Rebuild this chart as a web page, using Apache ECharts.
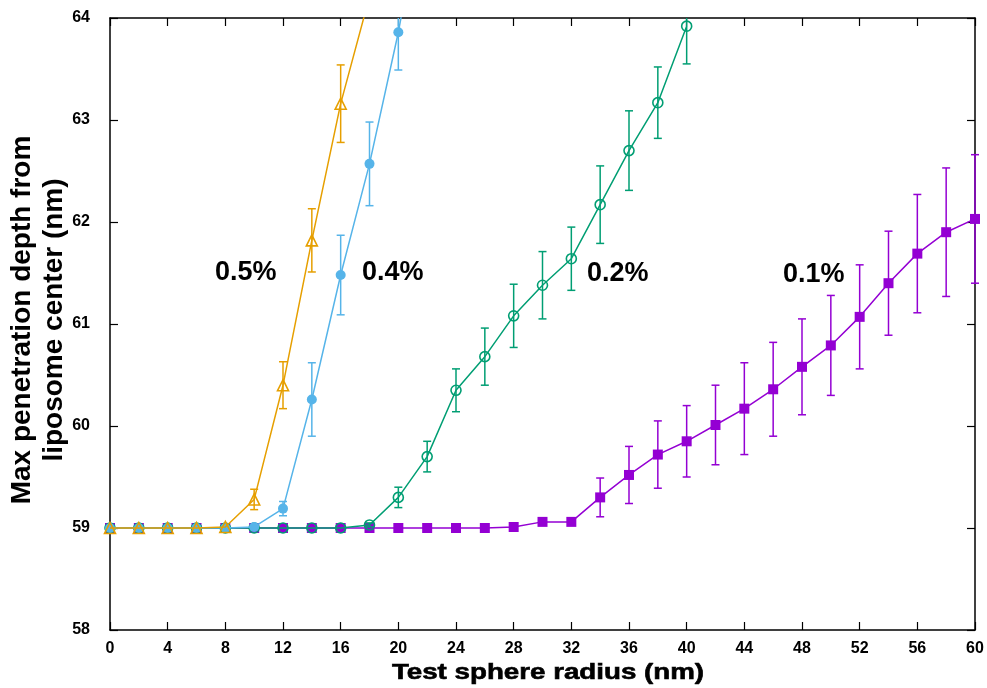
<!DOCTYPE html>
<html>
<head>
<meta charset="utf-8">
<script src="https://cdn.jsdelivr.net/npm/echarts@6/dist/echarts.min.js"></script>
<style>
  html, body { margin: 0; padding: 0; background: #fff; }
  #chart { width: 987px; height: 688px; }
</style>
</head>
<body>
<div id="chart"></div>
<script>
// test sphere radius (nm)
var radius = [0, 2, 4, 6, 8, 10, 12, 14, 16, 18, 20, 22, 24, 26, 28, 30,
              32, 34, 36, 38, 40, 42, 44, 46, 48, 50, 52, 54, 56, 58, 60];

// 0.5 %
var depth05 = [59, 59, 59, 59, 59.01, 59.28, 60.40, 61.82, 63.16, 64.21];
var err05   = [0, 0, 0, 0, 0, 0.10, 0.23, 0.31, 0.38, 0];

// 0.4 %
var depth04 = [59, 59, 59, 59, 59, 59.01, 59.19, 60.26, 61.48, 62.57, 63.86, 65.4];
var err04   = [0, 0, 0, 0, 0, 0.01, 0.07, 0.36, 0.39, 0.41, 0.37, 0];

// 0.2 %
var depth02 = [59, 59, 59, 59, 59, 59, 59, 59, 59, 59.03, 59.30, 59.70, 60.35,
               60.68, 61.08, 61.38, 61.64, 62.17, 62.70, 63.17, 63.92];
var err02   = [0, 0, 0, 0, 0, 0, 0, 0, 0, 0.02, 0.10, 0.15, 0.21,
               0.28, 0.31, 0.33, 0.31, 0.38, 0.39, 0.35, 0.37];

// 0.1 %
var depth01 = [59, 59, 59, 59, 59, 59, 59, 59, 59, 59, 59, 59, 59, 59, 59.01, 59.06,
               59.06, 59.30, 59.52, 59.72, 59.85, 60.01, 60.17, 60.36, 60.58, 60.79,
               61.07, 61.40, 61.69, 61.90, 62.03];
var err01   = [0, 0, 0, 0, 0, 0, 0, 0, 0, 0, 0, 0, 0, 0, 0, 0.01,
               0.01, 0.19, 0.28, 0.33, 0.35, 0.39, 0.45, 0.46, 0.47, 0.49,
               0.51, 0.51, 0.58, 0.63, 0.63];

var xTicks = { min: 0, max: 60, interval: 4 };
var yTicks = { min: 58, max: 64, interval: 1 };

var FONT = "'Liberation Sans', Arial, sans-serif";

function pairs(ys) {
  return ys.map(function(y, i) { return [radius[i], y]; });
}
function triples(ys, es) {
  return ys.map(function(y, i) { return [radius[i], y, es[i]]; });
}

function errorBars(params, api) {
  var e = api.value(2);
  if (!e) return;
  var x = api.value(0), y = api.value(1);
  var top = api.coord([x, y + e]);
  var bot = api.coord([x, y - e]);
  var cs = params.coordSys;
  var clipTop = top[1] < cs.y;
  var yTop = Math.max(top[1], cs.y);
  var yBot = Math.min(bot[1], cs.y + cs.height);
  var w = 4;
  var style = { stroke: api.visual("color"), lineWidth: 1.5 };
  var kids = [
    { type: "line", shape: { x1: top[0], y1: yTop, x2: top[0], y2: yBot }, style: style }
  ];
  if (!clipTop) kids.push({ type: "line", shape: { x1: top[0] - w, y1: yTop, x2: top[0] + w, y2: yTop }, style: style });
  kids.push({ type: "line", shape: { x1: bot[0] - w, y1: yBot, x2: bot[0] + w, y2: yBot }, style: style });
  return { type: "group", children: kids };
}

// open markers keep a see-through middle, like the original plot
var groups = [
  { name: "0.1%", color: "#9400D3", sym: "rect", size: 10, open: false, y: depth01, e: err01 },
  { name: "0.2%", color: "#009E73", sym: "circle", size: 10, open: true, y: depth02, e: err02 },
  { name: "0.4%", color: "#56B4E9", sym: "circle", size: 10, open: false, y: depth04, e: err04 },
  { name: "0.5%", color: "#E69F00", sym: "triangle", size: 11, open: true, y: depth05, e: err05 }
];

var series = [];
groups.forEach(function(g, k) {
  series.push({
    type: "custom",
    name: g.name + " err",
    renderItem: errorBars,
    itemStyle: { color: g.color },
    data: triples(g.y, g.e),
    encode: { x: 0, y: 1 },
    z: 2 + k * 2,
    silent: true
  });
  series.push({
    type: "line",
    name: g.name,
    data: pairs(g.y),
    symbol: g.sym,
    symbolSize: g.size,
    showAllSymbol: true,
    clip: true,
    lineStyle: { color: g.color, width: 1.5 },
    itemStyle: g.open
      ? { color: "rgba(255,255,255,0)", borderColor: g.color, borderWidth: 1.6 }
      : { color: g.color, borderWidth: 0 },
    z: 3 + k * 2,
    animation: false
  });
});

function axisBase(extra) {
  var base = {
    type: "value",
    axisLine: { show: true, onZero: false, lineStyle: { color: "#000", width: 1.5 } },
    axisTick: { show: true, inside: true, length: 8, lineStyle: { color: "#000", width: 1.2 } },
    splitLine: { show: false },
    axisLabel: { color: "#000", fontFamily: FONT, fontWeight: "bold", fontSize: 16 }
  };
  for (var k in extra) base[k] = extra[k];
  return base;
}

var chart = echarts.init(document.getElementById("chart"));
chart.setOption({
  animation: false,
  backgroundColor: "#fff",
  grid: { left: 110, right: 12, top: 18, bottom: 58, containLabel: false, outerBoundsMode: "none" },
  xAxis: [
    axisBase({
      min: xTicks.min, max: xTicks.max, interval: xTicks.interval,
      position: "bottom",
      axisLabel: { color: "#000", fontFamily: FONT, fontWeight: "bold", fontSize: 16, margin: 11 }
    }),
    axisBase({
      min: xTicks.min, max: xTicks.max, interval: xTicks.interval,
      position: "top",
      axisLabel: { show: false }
    })
  ],
  yAxis: [
    axisBase({
      min: yTicks.min, max: yTicks.max, interval: yTicks.interval,
      position: "left",
      axisLabel: { color: "#000", fontFamily: FONT, fontWeight: "bold", fontSize: 16, margin: 20 }
    }),
    axisBase({
      min: yTicks.min, max: yTicks.max, interval: yTicks.interval,
      position: "right",
      axisLabel: { show: false }
    })
  ],
  graphic: [
    { type: "text", left: 215, top: 259, style: { text: "0.5%", fill: "#000", font: "bold 27px " + FONT } },
    { type: "text", left: 362, top: 259, style: { text: "0.4%", fill: "#000", font: "bold 27px " + FONT } },
    { type: "text", left: 587, top: 260, style: { text: "0.2%", fill: "#000", font: "bold 27px " + FONT } },
    { type: "text", left: 783, top: 261, style: { text: "0.1%", fill: "#000", font: "bold 27px " + FONT } },
    {
      type: "text", x: 548, y: 673, scaleX: 1.26,
      style: { text: "Test sphere radius (nm)", fill: "#000", font: "bold 22px " + FONT,
               stroke: "#000", lineWidth: 0.6, align: "center", verticalAlign: "middle" }
    },
    {
      type: "text", x: 38, y: 320, rotation: Math.PI / 2,
      style: { text: "Max penetration depth from\nliposome center (nm)", fill: "#000",
               font: "bold 28px " + FONT, lineHeight: 32, align: "center", verticalAlign: "middle" }
    }
  ],
  series: series
});
</script>
</body>
</html>
